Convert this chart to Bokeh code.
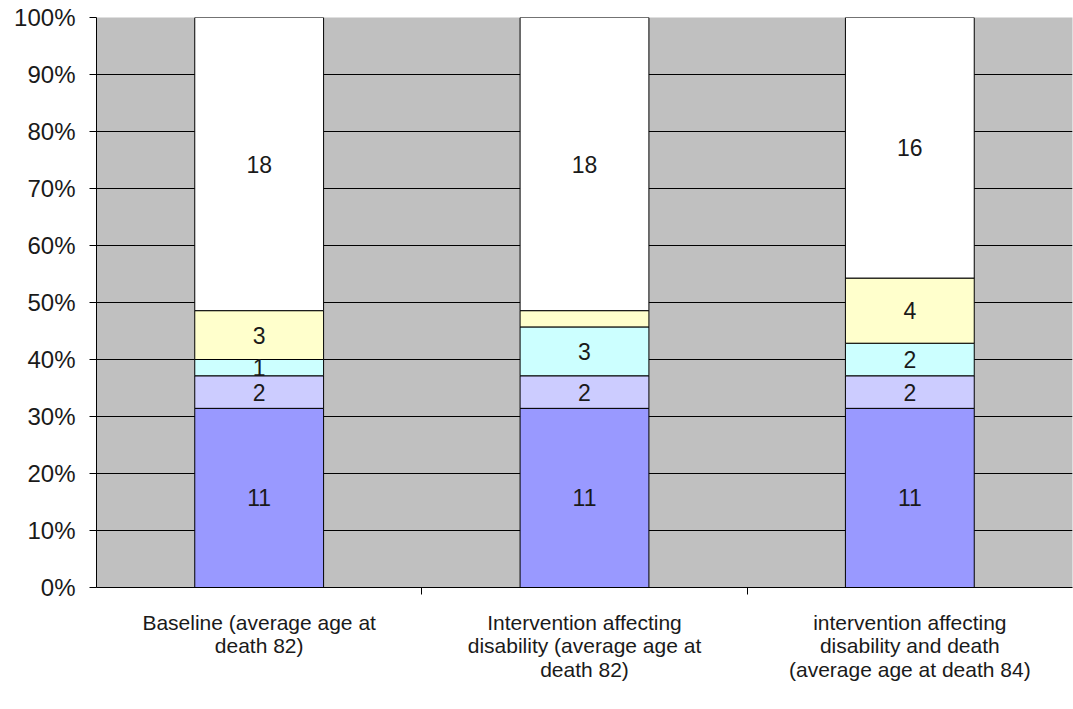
import numpy as np
from bokeh.plotting import figure
from bokeh.models import ColumnDataSource, FixedTicker, Range1d, NumeralTickFormatter
from bokeh.core.properties import value
from bokeh.embed import file_html
from bokeh.resources import INLINE

categories = ["Baseline (average age at\ndeath 82)",
              "Intervention affecting\ndisability (average age at\ndeath 82)",
              "intervention affecting\ndisability and death\n(average age at death 84)"]
seg1 = [11, 11, 11]
seg2 = [2, 2, 2]
seg3 = [1, 3, 2]
seg4 = [3, 1, 4]
seg5 = [18, 18, 16]
show_label = [[True, True, True], [True, True, True], [True, True, True],
              [True, False, True], [True, True, True]]
colors = ["#9999FF", "#CCCCFF", "#CCFFFF", "#FFFFCC", "#FFFFFF"]

series = [seg1, seg2, seg3, seg4, seg5]
totals = np.sum(np.array(series), axis=0)
xs = np.arange(len(categories)) + 0.5

p = figure(width=1073, height=709, output_backend="svg", toolbar_location=None,
           x_range=Range1d(0, 3), y_range=Range1d(0, 1),
           min_border_left=96, min_border_right=1, min_border_top=17, min_border_bottom=122)
p.background_fill_color = "#C0C0C0"
p.border_fill_color = "white"
p.outline_line_color = None

bottom = np.zeros(len(categories))
lx, ly, lt = [], [], []
for i, s in enumerate(series):
    frac = np.array(s) / totals
    top = bottom + frac
    src = ColumnDataSource(dict(x=xs, bottom=bottom, top=top))
    p.vbar(x="x", width=0.396, bottom="bottom", top="top", source=src,
           fill_color=colors[i], line_color="black", line_width=1)
    for j in range(len(categories)):
        if show_label[i][j]:
            lx.append(xs[j]); ly.append((bottom[j] + top[j]) / 2); lt.append(str(s[j]))
    bottom = top

p.text(x=lx, y=ly, text=lt, text_align="center", text_baseline="middle",
       text_font=value("Liberation Sans"), text_font_size="23px", text_color="#1a1a1a")

p.xgrid.grid_line_color = None
p.ygrid.grid_line_color = "black"
p.ygrid.grid_line_width = 1
p.ygrid.ticker = FixedTicker(ticks=[i / 10 for i in range(11)])

p.yaxis.ticker = FixedTicker(ticks=[i / 10 for i in range(11)])
p.yaxis.formatter = NumeralTickFormatter(format="0%")
p.yaxis.axis_line_color = "black"
p.yaxis.major_tick_line_color = "black"
p.yaxis.major_tick_out = 7
p.yaxis.major_tick_in = 0
p.yaxis.minor_tick_line_color = None
p.yaxis.major_label_text_font = "Liberation Sans"
p.yaxis.major_label_text_font_size = "24px"
p.yaxis.major_label_text_color = "#1a1a1a"
p.yaxis.major_label_standoff = 14

p.xaxis.ticker = FixedTicker(ticks=list(xs), minor_ticks=[1, 2])
p.xaxis.major_label_overrides = {float(x): c for x, c in zip(xs, categories)}
p.xaxis.axis_line_color = "black"
p.xaxis.major_tick_line_color = None
p.xaxis.minor_tick_line_color = "black"
p.xaxis.minor_tick_out = 7
p.xaxis.minor_tick_in = 0
p.xaxis.major_label_text_font = "Liberation Sans"
p.xaxis.major_label_text_font_size = "21px"
p.xaxis.major_label_text_line_height = 1.03
p.xaxis.major_label_text_color = "#1a1a1a"
p.xaxis.major_label_standoff = 16
p.xaxis.major_label_text_align = "center"

open("out.html", "w").write(file_html(p, INLINE))
